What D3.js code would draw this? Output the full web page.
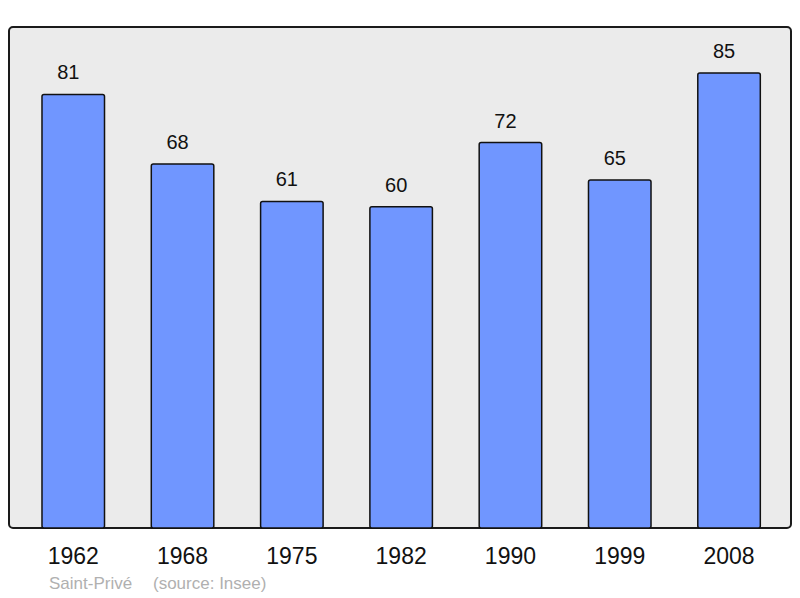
<!DOCTYPE html>
<html>
<head>
<meta charset="utf-8">
<script src="https://cdn.jsdelivr.net/npm/d3@7"></script>
<style>
  body { margin: 0; background: #fff; }
  text { font-family: "Liberation Sans", Arial, sans-serif; }
</style>
</head>
<body>
<div id="chart"></div>
<script>
const years = ['1962', '1968', '1975', '1982', '1990', '1999', '2008']
const population = [81, 68, 61, 60, 72, 65, 85]
const place = 'Saint-Privé'
const source = '(source: Insee)'

const width = 800
const height = 598
const frame = { left: 9, top: 27, right: 791, bottom: 528 }

const svg = d3.select('#chart')
    .append('svg')
    .attr('width', width)
    .attr('height', height)

// background frame
svg.append('rect')
    .attr('x', frame.left)
    .attr('y', frame.top)
    .attr('width', frame.right - frame.left)
    .attr('height', frame.bottom - frame.top)
    .attr('rx', 4)
    .attr('fill', '#ebebeb')
    .attr('stroke', '#1a1a1a')
    .attr('stroke-width', 2)

// scales
const xScale = d3.scaleBand()
    .domain(years)
    .range([18.6, 783.7])
    .paddingInner(0.428)
    .paddingOuter(0.214)

const yScale = d3.scaleLinear()
    .domain([0, 93.6])
    .range([frame.bottom, frame.top])

// bars
svg.selectAll('rect.bar')
    .data(population)
    .enter()
    .append('rect')
    .attr('class', 'bar')
    .attr('x', (d, i) => xScale(years[i]))
    .attr('y', d => yScale(d))
    .attr('width', xScale.bandwidth())
    .attr('height', d => yScale(0) - yScale(d))
    .attr('rx', 2)
    .attr('fill', '#7096ff')
    .attr('stroke', '#111')
    .attr('stroke-width', 1.5)

// value labels (sit a little left of the bar centre, as in the original)
svg.selectAll('text.value')
    .data(population)
    .enter()
    .append('text')
    .attr('class', 'value')
    .attr('x', (d, i) => xScale(years[i]) + xScale.bandwidth() / 2 - 5)
    .attr('y', d => yScale(d) - 15)
    .attr('text-anchor', 'middle')
    .attr('font-size', 20)
    .attr('fill', '#111')
    .text(d => d)

// x axis labels
const xAxis = d3.axisBottom(xScale).tickSize(0).tickPadding(0)
const gx = svg.append('g')
    .attr('transform', 'translate(0,' + frame.bottom + ')')
    .call(xAxis)
gx.select('.domain').remove()
gx.selectAll('text')
    .attr('dy', 0)
    .attr('y', 36)
    .attr('font-size', 23)
    .attr('font-family', '"Liberation Sans", Arial, sans-serif')
    .attr('fill', '#111')

// footer
svg.append('text')
    .attr('x', 49)
    .attr('y', 589)
    .attr('font-size', 17)
    .attr('fill', '#b0b0b0')
    .text(place)

svg.append('text')
    .attr('x', 153)
    .attr('y', 589)
    .attr('font-size', 17)
    .attr('fill', '#b0b0b0')
    .text(source)
</script>
</body>
</html>
